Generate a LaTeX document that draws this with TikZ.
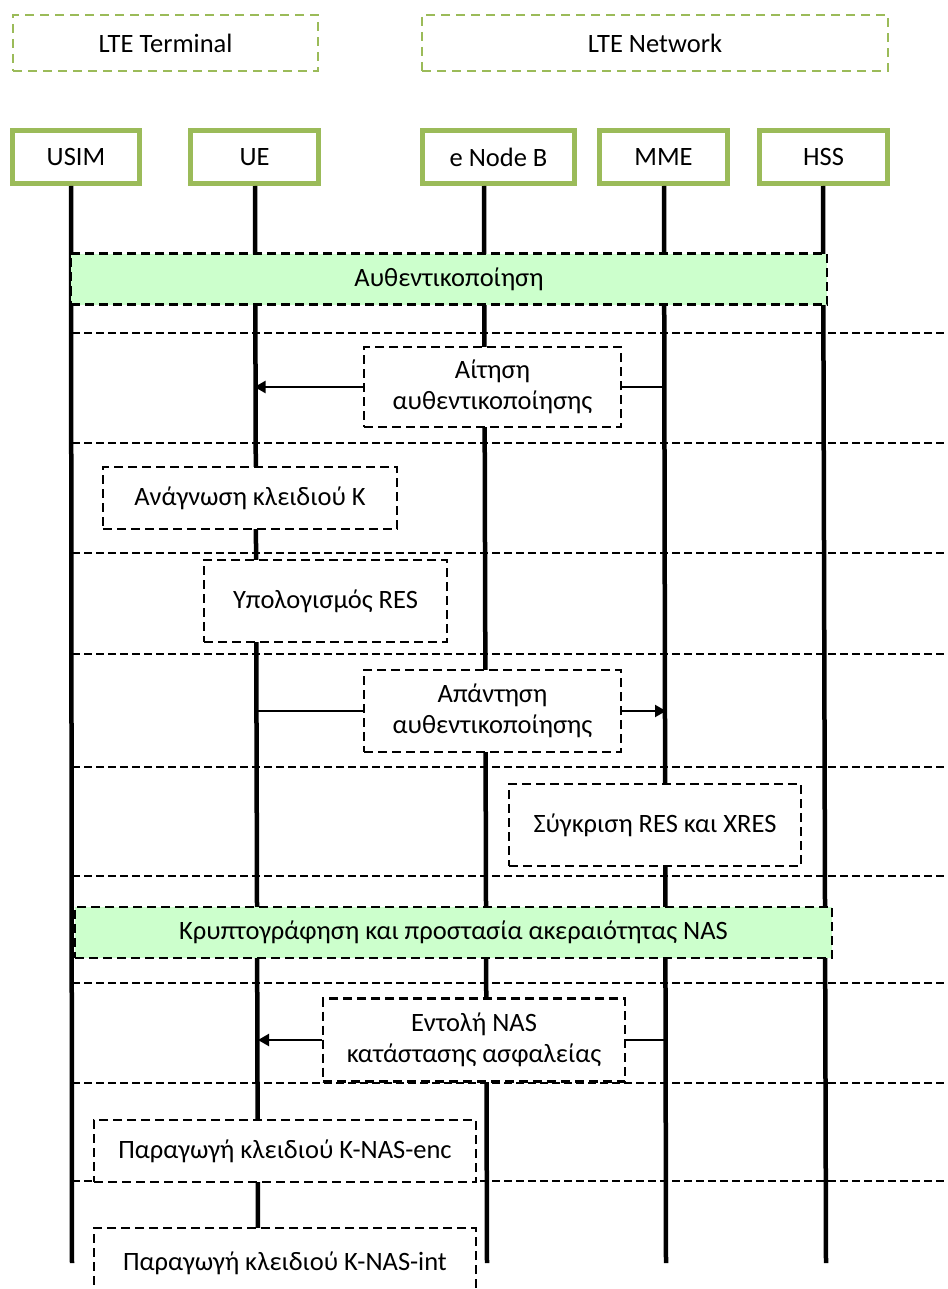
\documentclass[tikz,border=0pt]{standalone}
\usepackage{fontspec}
\setmainfont{Carlito}
\usetikzlibrary{arrows.meta,positioning}
\definecolor{leafgreen}{HTML}{9BBB59}
\definecolor{mintfill}{HTML}{CCFFCC}

\begin{document}
\begin{tikzpicture}[x=1pt, y=-1pt,
  font=\fontsize{26.5}{31}\selectfont,
  group/.style={rectangle, draw=leafgreen, line width=2.5pt,
                dash pattern=on 9pt off 6pt, minimum height=56pt,
                minimum width=#1, inner sep=0pt},
  entity/.style={rectangle, draw=leafgreen, fill=white, line width=5pt,
                 minimum height=53pt, minimum width=#1, inner sep=0pt},
  phase/.style={rectangle, draw, fill=mintfill, line width=2.5pt,
                dash pattern=on 9pt off 5pt, minimum height=51pt,
                minimum width=#1, inner sep=0pt},
  stepbox/.style={rectangle, draw, fill=white, line width=2.5pt,
                  dash pattern=on 9pt off 5pt, align=center,
                  minimum width=#1, inner sep=0pt},
  lifeline/.style={line width=4.5pt},
  separator/.style={line width=1.8pt, dash pattern=on 8pt off 4pt},
  msg/.style={line width=2.2pt, -{Triangle[length=11pt, width=12pt]}},
  plain/.style={line width=1.5pt}
]
  \clip (0,0) rectangle (947,1289);

  % Groups
  \node[group=305pt] (terminal) at (165.5,43) {LTE Terminal};
  \node[group=466pt] (network) at (655,43) {LTE Network};

  % Entities
  \node[entity=127pt] (usim) at (76,157) {USIM};
  \node[entity=128pt] (ue) at (254.5,157) {UE};
  \node[entity=152pt] (enb) at (498.5,157) {e Node B};
  \node[entity=128pt] (mme) at (663.5,157) {MME};
  \node[entity=128pt] (hss) at (823.5,157) {HSS};

  % Lifelines
  \coordinate (usimEnd) at (72,1263);
  \coordinate (ueEnd) at (258,1263);
  \coordinate (enbEnd) at (487,1263);
  \coordinate (mmeEnd) at (666,1263);
  \coordinate (hssEnd) at (826,1263);
  \draw[lifeline] ([xshift=-5pt]usim.south) -- (usimEnd);
  \draw[lifeline] ([xshift=0.5pt]ue.south) -- (ueEnd);
  \draw[lifeline] ([xshift=-14.5pt]enb.south) -- (enbEnd);
  \draw[lifeline] ([xshift=0.5pt]mme.south) -- (mmeEnd);
  \draw[lifeline] ([xshift=-0.5pt]hss.south) -- (hssEnd);

  % Separators
  \foreach \y in {333,443,553,654,767,876,983,1083,1181}
    \draw[separator] (72,\y) -- (947,\y);

  % Phases
  \node[phase=756pt] (auth) at (449,279) {Αυθεντικοποίηση};
  \node[phase=757pt] (cipher) at (453.5,932.5)
    {Κρυπτογράφηση και προστασία ακεραιότητας NAS};

  % Steps
  \node[stepbox=257pt, minimum height=80pt] (request) at (492.5,387)
    {Αίτηση\\αυθεντικοποίησης};
  \node[stepbox=294pt, minimum height=62pt] (readkey) at (250,498)
    {Ανάγνωση κλειδιού Κ};
  \node[stepbox=243pt, minimum height=82pt] (calcres) at (325.5,601)
    {Υπολογισμός RES};
  \node[stepbox=257pt, minimum height=82pt] (response) at (492.5,711)
    {Απάντηση\\αυθεντικοποίησης};
  \node[stepbox=292pt, minimum height=82pt] (compare) at (655,825)
    {Σύγκριση RES και XRES};
  \node[stepbox=302pt, minimum height=83pt] (command) at (474,1040)
    {Εντολή NAS\\κατάστασης ασφαλείας};
  \node[stepbox=382pt, minimum height=62pt] (encKey) at (285,1151)
    {Παραγωγή κλειδιού Κ-NAS-enc};
  \node[stepbox=382pt, minimum height=70pt] (intKey) at (285,1263)
    {Παραγωγή κλειδιού Κ-NAS-int};

  % Messages
  \draw[plain] (request.east -| mme) -- (request.east);
  \draw[msg] (request.west) -- (request.west -| ue);
  \draw[plain] (response.west -| ueEnd) -- (response.west);
  \draw[msg] (response.east) -- (response.east -| mmeEnd);
  \draw[plain] (command.east -| mmeEnd) -- (command.east);
  \draw[msg] (command.west) -- (command.west -| ueEnd);
\end{tikzpicture}
\end{document}
